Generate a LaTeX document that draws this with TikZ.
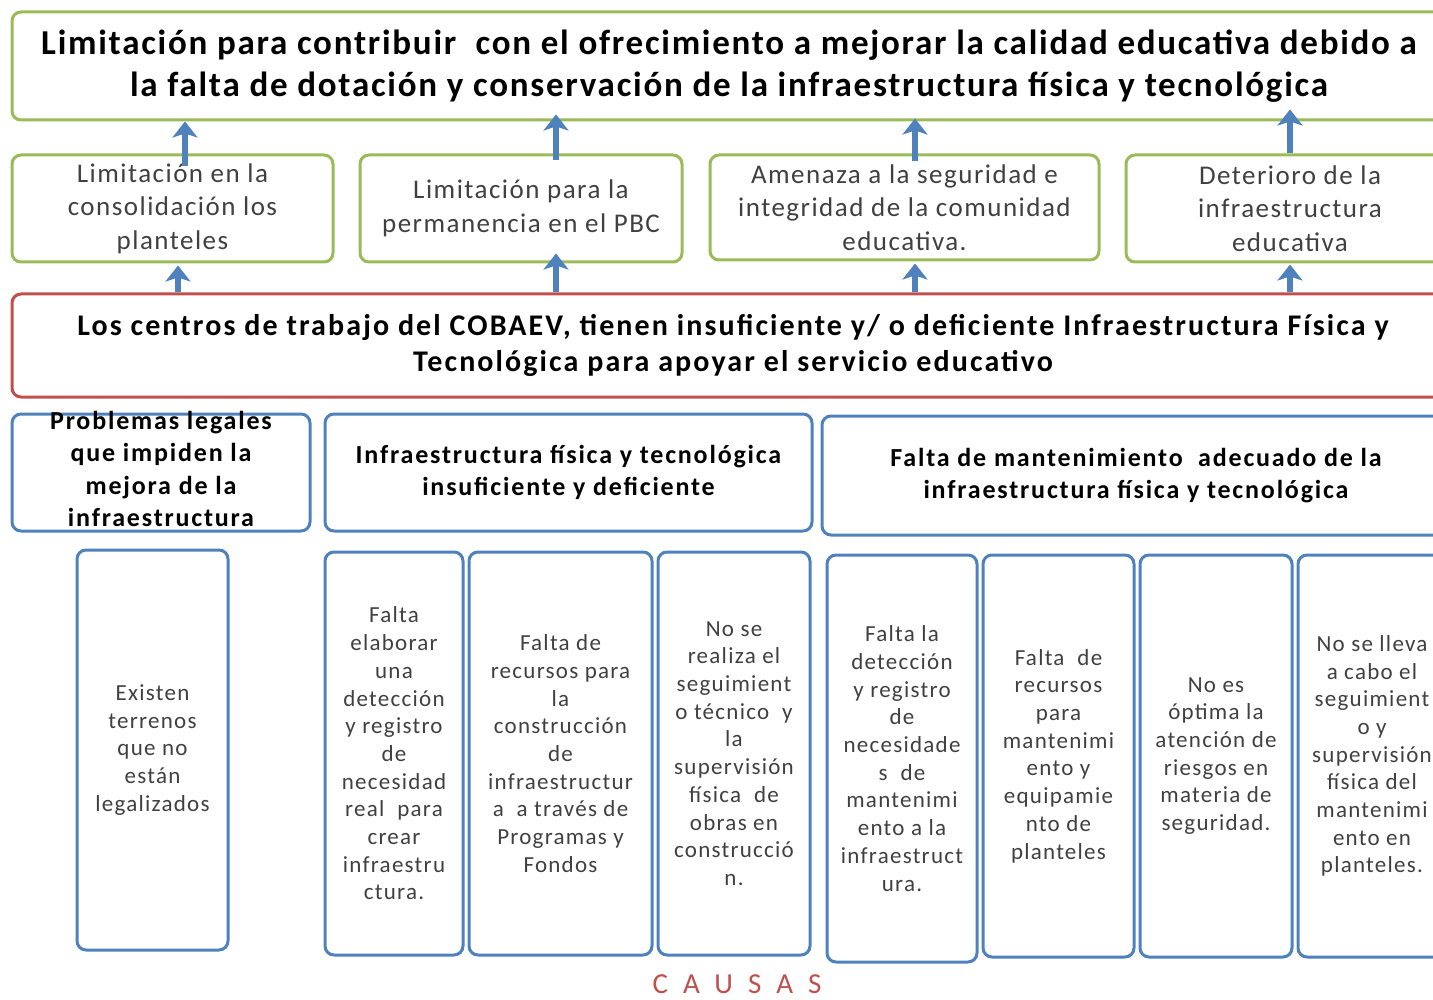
\documentclass[tikz,border=0pt]{standalone}
\usepackage{fontspec}
\setmainfont{Carlito}
\newfontfamily\causasfont[LetterSpace=52]{Carlito}
\usetikzlibrary{arrows.meta}
\definecolor{gboxc}{HTML}{9BBB59}
\definecolor{bboxc}{HTML}{4F81BD}
\definecolor{rboxc}{HTML}{C0504D}
\definecolor{txtgray}{HTML}{404040}
\tikzset{
  box/.style={draw, line width=3pt, rounded corners=9pt, inner sep=0pt, align=center},
  gbox/.style={box, draw=gboxc},
  bbox/.style={box, draw=bboxc},
  rbox/.style={box, draw=rboxc},
  titletxt/.style={font=\bfseries\fontsize{35}{42}\selectfont\addfontfeature{LetterSpace=5}},
  effecttxt/.style={font=\fontsize{27}{33.5}\selectfont\addfontfeature{LetterSpace=5.5}, text=txtgray},
  problemtxt/.style={font=\bfseries\fontsize{30}{36}\selectfont\addfontfeature{LetterSpace=7}},
  causetxt/.style={font=\bfseries\fontsize{26}{32.5}\selectfont\addfontfeature{LetterSpace=7}},
  subtxt/.style={font=\fontsize{23}{27.7}\selectfont\addfontfeature{LetterSpace=5.5}, text=txtgray},
  upar/.style={draw=bboxc, line width=6pt, -{Stealth[length=16pt,width=25pt,inset=4pt]}}
}
\begin{document}
\begin{tikzpicture}[x=1pt,y=-1pt]
\useasboundingbox (0,0) rectangle (1433,1000);
\clip (0,0) rectangle (1433,1000);
% top effect
\node[gbox, titletxt, minimum width=1434pt, minimum height=108pt] (top) at (729,66)
  {Limitación para contribuir\ \ con el ofrecimiento a mejorar la calidad educativa debido a\\la falta de dotación y conservación de la infraestructura física y tecnológica};
% row 2 effects
\node[gbox, effecttxt, minimum width=321pt, minimum height=107pt] (g1) at (172.5,208.5)
  {Limitación en la\\consolidación los\\planteles};
\node[gbox, effecttxt, minimum width=322pt, minimum height=107pt] (g2) at (521,208.5)
  {Limitación para la\\permanencia en el PBC};
\node[gbox, effecttxt, minimum width=389pt, minimum height=105pt] (g3) at (904.5,207.5)
  {Amenaza a la seguridad e\\integridad de la comunidad\\educativa.};
\node[gbox, effecttxt, minimum width=328pt, minimum height=107pt] (g4) at (1290,208.5)
  {Deterioro de la\\infraestructura\\educativa};
% central problem
\node[rbox, problemtxt, minimum width=1442pt, minimum height=103pt] (red) at (733,345.5)
  {Los centros de trabajo del COBAEV, tienen insuficiente y/ o deficiente Infraestructura Física y\\Tecnológica para apoyar el servicio educativo};
% row 3 causes
\node[bbox, minimum width=298pt, minimum height=117pt] (bA) at (161,472.5) {};
\node[causetxt, align=center, inner sep=0pt] (bAt) at (161,469)
  {Problemas legales\\que impiden la\\mejora de la\\infraestructura};
\node[bbox, causetxt, minimum width=487pt, minimum height=117pt] (bB) at (568.5,472.5)
  {Infraestructura física y tecnológica\\insuficiente y deficiente};
\node[bbox, causetxt, minimum width=628pt, minimum height=119pt] (bC) at (1136,475.5)
  {Falta de mantenimiento\ \ adecuado de la\\infraestructura física y tecnológica};
% bottom sub-causes
\node[bbox, subtxt, minimum width=151pt, minimum height=400pt] (c1) at (152.5,750)
  {Existen\\terrenos\\que no\\están\\legalizados};
\node[bbox, subtxt, minimum width=138pt, minimum height=403pt] (c2) at (394,753.5)
  {Falta\\elaborar\\una\\detección\\y registro\\de\\necesidad\\real\ \ para\\crear\\infraestru\\ctura.};
\node[bbox, subtxt, minimum width=183pt, minimum height=403pt] (c3) at (560.5,753.5)
  {Falta de\\recursos para\\la\\construcción\\de\\infraestructur\\a\ \ a través de\\Programas y\\Fondos};
\node[bbox, subtxt, minimum width=152pt, minimum height=403pt] (c4) at (734,753.5)
  {No se\\realiza el\\seguimient\\o técnico\ \ y\\la\\supervisión\\física\ \ de\\obras en\\construcció\\n.};
\node[bbox, subtxt, minimum width=150pt, minimum height=407pt] (c5) at (902,758.5)
  {Falta la\\detección\\y registro\\de\\necesidade\\s\ \ de\\mantenimi\\ento a la\\infraestruct\\ura.};
\node[bbox, subtxt, minimum width=151pt, minimum height=402pt] (c6) at (1058.5,756)
  {Falta\ \ de\\recursos\\para\\mantenimi\\ento y\\equipamie\\nto de\\planteles};
\node[bbox, subtxt, minimum width=152pt, minimum height=402pt] (c7) at (1216,756)
  {No es\\óptima la\\atención de\\riesgos en\\materia de\\seguridad.};
\node[bbox, subtxt, minimum width=148pt, minimum height=402pt] (c8) at (1372,756)
  {No se lleva\\a cabo el\\seguimient\\o y\\supervisión\\física del\\mantenimi\\ento en\\planteles.};
% caption
\node[text=rboxc, font=\causasfont\fontsize{29}{34}\selectfont, inner sep=0pt] (causas) at (737,984) {CAUSAS};
% arrows: row 2 -> top
\draw[upar] ([shift={(12.5,13)}]g1.north) -- ([shift={(12.5,0)}]top.south -| g1.north);
\draw[upar] ([shift={(35,7)}]g2.north) -- ([shift={(35,-7)}]top.south -| g2.north);
\draw[upar] ([shift={(10.5,8)}]g3.north) -- ([shift={(10.5,-3)}]top.south -| g3.north);
\draw[upar] (g4.north) -- ([shift={(0,-12)}]top.south -| g4.north);
% arrows: red -> row 2
\draw[upar] ([xshift=5.5pt]red.north -| g1.south) -- ([shift={(5.5,2)}]g1.south);
\draw[upar] ([xshift=35pt]red.north -| g2.south) -- ([shift={(35,-10)}]g2.south);
\draw[upar] ([xshift=10.5pt]red.north -| g3.south) -- ([shift={(10.5,2)}]g3.south);
\draw[upar] (red.north -| g4.south) -- ([shift={(0,1)}]g4.south);
\end{tikzpicture}
\end{document}
